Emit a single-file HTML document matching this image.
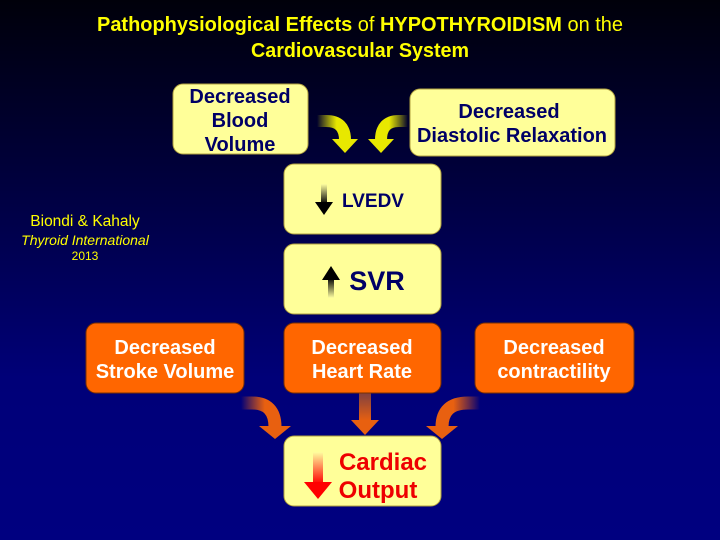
<!DOCTYPE html>
<html><head><style>
html,body{margin:0;padding:0;width:720px;height:540px;overflow:hidden;}
svg{display:block}
text{font-family:"Liberation Sans",Arial,sans-serif;font-weight:bold;}
</style></head><body>
<svg width="720" height="540" viewBox="0 0 720 540" xmlns="http://www.w3.org/2000/svg">
<defs>
<linearGradient id="bg" x1="0" y1="0" x2="0" y2="1">
<stop offset="0" stop-color="#00000a"/>
<stop offset="0.3" stop-color="#000038"/>
<stop offset="0.7" stop-color="#000078"/>
<stop offset="1" stop-color="#000080"/>
</linearGradient>
<linearGradient id="yl" x1="0" y1="0" x2="1" y2="0"><stop offset="0" stop-color="#ffff00" stop-opacity="0"/><stop offset="0.7" stop-color="#e8e800"/></linearGradient>
<linearGradient id="yr" x1="1" y1="0" x2="0" y2="0"><stop offset="0" stop-color="#ffff00" stop-opacity="0"/><stop offset="0.7" stop-color="#e8e800"/></linearGradient>
<linearGradient id="ol" x1="0" y1="0" x2="1" y2="0"><stop offset="0" stop-color="#ff6600" stop-opacity="0"/><stop offset="0.7" stop-color="#e86010"/></linearGradient>
<linearGradient id="or" x1="1" y1="0" x2="0" y2="0"><stop offset="0" stop-color="#ff6600" stop-opacity="0"/><stop offset="0.7" stop-color="#e86010"/></linearGradient>
<linearGradient id="om" x1="0" y1="0" x2="0" y2="1"><stop offset="0" stop-color="#804040"/><stop offset="1" stop-color="#e86010"/></linearGradient>
<linearGradient id="bk" x1="0" y1="0" x2="0" y2="1"><stop offset="0" stop-color="#ffffa0"/><stop offset="1" stop-color="#000"/></linearGradient>
<linearGradient id="bku" x1="0" y1="1" x2="0" y2="0"><stop offset="0" stop-color="#ffffa0"/><stop offset="1" stop-color="#000"/></linearGradient>
<linearGradient id="rd" x1="0" y1="0" x2="0" y2="1"><stop offset="0" stop-color="#ffffa0"/><stop offset="1" stop-color="#ff0000"/></linearGradient>
</defs>
<rect width="720" height="540" fill="url(#bg)"/>

<text x="360" y="31" font-size="20" fill="#ffff00" text-anchor="middle" textLength="526" lengthAdjust="spacingAndGlyphs">Pathophysiological Effects <tspan style="font-weight:normal">of</tspan> HYPOTHYROIDISM <tspan style="font-weight:normal">on the</tspan></text>
<text x="360" y="57" font-size="20" fill="#ffff00" text-anchor="middle" textLength="218" lengthAdjust="spacingAndGlyphs">Cardiovascular System</text>

<text x="85" y="226" font-size="15.5" fill="#ffff00" text-anchor="middle" style="font-weight:normal">Biondi &amp; Kahaly</text>
<text x="85" y="245" font-size="14" fill="#ffff00" text-anchor="middle" font-style="italic" style="font-weight:normal">Thyroid International</text>
<text x="85" y="260" font-size="12" fill="#ffff00" text-anchor="middle" style="font-weight:normal">2013</text>

<!-- yellow arrows -->
<path d="M317,121 L326,121 Q345,121 345,140" fill="none" stroke="url(#yl)" stroke-width="12"/>
<polygon points="332,139 358,139 345,153" fill="#e8e800"/>
<path d="M408,121 L399,121 Q381,121 381,140" fill="none" stroke="url(#yr)" stroke-width="12"/>
<polygon points="368,139 394,139 381,153" fill="#e8e800"/>

<!-- orange arrows -->
<path d="M241,403 L252,403 Q275,403 275,427" fill="none" stroke="url(#ol)" stroke-width="13"/>
<polygon points="259,426 291,426 275,439" fill="#e86010"/>
<rect x="359" y="393" width="12" height="28" fill="url(#om)"/>
<polygon points="351,420 379,420 365,435" fill="#e86010"/>
<path d="M480,403 L468,403 Q442,403 442,427" fill="none" stroke="url(#or)" stroke-width="13"/>
<polygon points="426,426 458,426 442,439" fill="#e86010"/>

<!-- yellow boxes -->
<g fill="#ffff99" stroke="#b0a040" stroke-width="1">
<rect x="173" y="84" width="135" height="70" rx="10"/>
<rect x="410" y="89" width="205" height="67" rx="10"/>
<rect x="284" y="164" width="157" height="70" rx="10"/>
<rect x="284" y="244" width="157" height="70" rx="10"/>
<rect x="284" y="436" width="157" height="70" rx="10"/>
</g>
<g fill="#ff6600" stroke="#7a3000" stroke-width="1">
<rect x="86" y="323" width="158" height="70" rx="10"/>
<rect x="284" y="323" width="157" height="70" rx="10"/>
<rect x="475" y="323" width="159" height="70" rx="10"/>
</g>

<g fill="#000066" font-size="20" text-anchor="middle">
<text x="240" y="103">Decreased</text>
<text x="240" y="127">Blood</text>
<text x="240" y="151">Volume</text>
<text x="509" y="118">Decreased</text>
<text x="512" y="142">Diastolic Relaxation</text>
<text x="373" y="207" font-size="19">LVEDV</text>
<text x="377" y="290" font-size="27">SVR</text>
</g>
<g fill="#ffffff" font-size="20" text-anchor="middle">
<text x="165" y="354">Decreased</text>
<text x="165" y="378">Stroke Volume</text>
<text x="362" y="354">Decreased</text>
<text x="362" y="378">Heart Rate</text>
<text x="554" y="354">Decreased</text>
<text x="554" y="378">contractility</text>
</g>
<g fill="#ee0000" font-size="24" text-anchor="middle">
<text x="383" y="470">Cardiac</text>
<text x="378" y="498">Output</text>
</g>

<!-- small arrows -->
<rect x="321" y="184" width="6" height="20" fill="url(#bk)"/>
<polygon points="315,202 333,202 324,215" fill="#000"/>
<rect x="328" y="278" width="6" height="20" fill="url(#bku)"/>
<polygon points="322,280 340,280 331,266" fill="#000"/>
<rect x="313" y="452" width="10" height="32" fill="url(#rd)"/>
<polygon points="304,482 332,482 318,499" fill="#ff0000"/>
</svg>
</body></html>
